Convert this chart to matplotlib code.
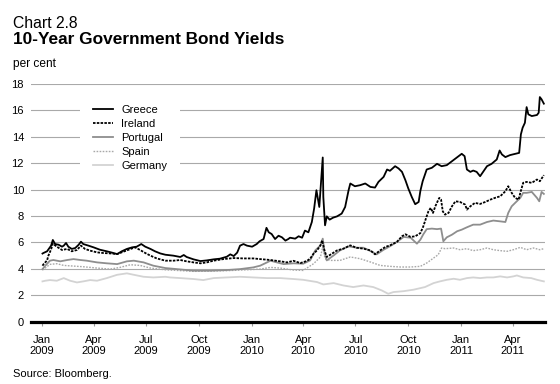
import matplotlib
matplotlib.use("Agg")
import matplotlib.pyplot as plt
import pandas as pd

plt.rcParams['font.family'] = ['Liberation Sans', 'DejaVu Sans']

# ---------------- data ----------------
greece_dates = ["2009-01-02","2009-01-04","2009-01-10","2009-01-17","2009-01-20","2009-01-24","2009-01-30",
    "2009-02-05","2009-02-08","2009-02-12","2009-02-16","2009-02-22","2009-02-28","2009-03-06","2009-03-10",
    "2009-03-14","2009-03-23","2009-04-01","2009-04-12","2009-04-24","2009-05-03","2009-05-12","2009-05-20",
    "2009-05-29","2009-06-07","2009-06-15","2009-06-23","2009-06-30","2009-07-09","2009-07-17","2009-07-26",
    "2009-08-04","2009-08-18","2009-08-30","2009-09-05","2009-09-10","2009-09-22","2009-10-04","2009-10-15",
    "2009-10-27","2009-11-07","2009-11-19","2009-11-25","2009-12-01","2009-12-07","2009-12-12","2009-12-18",
    "2009-12-24","2010-01-02","2010-01-10","2010-01-15","2010-01-22","2010-01-27","2010-01-31","2010-02-05",
    "2010-02-11","2010-02-17","2010-02-23","2010-03-01","2010-03-06","2010-03-09","2010-03-18","2010-03-24",
    "2010-03-30","2010-04-04","2010-04-10","2010-04-16","2010-04-20","2010-04-24","2010-04-26","2010-04-29",
    "2010-05-02","2010-05-05","2010-05-06","2010-05-09","2010-05-12","2010-05-17","2010-05-23","2010-05-30",
    "2010-06-07","2010-06-13","2010-06-19","2010-06-22","2010-06-30","2010-07-09","2010-07-18","2010-07-27",
    "2010-08-04","2010-08-10","2010-08-19","2010-08-25","2010-08-30","2010-09-08","2010-09-14","2010-09-20",
    "2010-09-26","2010-10-01","2010-10-07","2010-10-13","2010-10-19","2010-10-22","2010-10-26","2010-11-02",
    "2010-11-11","2010-11-20","2010-11-28","2010-12-07","2010-12-16","2010-12-25","2011-01-02","2011-01-07",
    "2011-01-11","2011-01-17","2011-01-22","2011-01-28","2011-02-03","2011-02-09","2011-02-15","2011-02-23",
    "2011-03-04","2011-03-09","2011-03-13","2011-03-19","2011-03-27","2011-04-05","2011-04-12","2011-04-15",
    "2011-04-18","2011-04-22","2011-04-25","2011-04-28","2011-05-04","2011-05-13","2011-05-16","2011-05-18",
    "2011-05-21","2011-05-25"]
greece = [5.15,5.2,5.32,5.75,6.18,5.87,5.82,5.67,5.75,5.95,5.67,5.5,5.57,5.82,6.05,5.87,5.75,5.62,5.44,5.32,
    5.22,5.11,5.32,5.5,5.62,5.67,5.87,5.67,5.5,5.32,5.16,5.06,4.99,4.89,5.04,4.89,4.71,4.58,4.63,4.71,4.76,
    4.91,5.09,4.96,5.22,5.75,5.87,5.75,5.67,5.87,6.08,6.25,7.1,6.76,6.63,6.25,6.5,6.38,6.13,6.25,6.35,6.28,
    6.46,6.35,6.89,6.76,7.54,8.56,9.95,9.44,8.68,10.5,12.43,9.44,7.29,7.97,7.72,7.87,7.97,8.18,8.68,9.95,
    10.46,10.25,10.33,10.46,10.2,10.15,10.58,10.96,11.52,11.42,11.77,11.6,11.34,10.7,10.08,9.44,8.89,9.06,
    9.9,10.63,11.52,11.65,11.95,11.77,11.85,12.15,12.46,12.71,12.53,11.52,11.34,11.44,11.34,11.01,11.39,
    11.77,11.95,12.28,12.96,12.66,12.46,12.61,12.71,12.78,14.18,14.68,15.06,16.25,15.7,15.57,15.65,15.82,
    17.01,16.84,16.51]

ireland_dates = ["2009-01-02","2009-01-04","2009-01-10","2009-01-12","2009-01-17","2009-01-20","2009-01-27",
    "2009-02-05","2009-02-14","2009-02-22","2009-03-03","2009-03-10","2009-03-17","2009-03-26","2009-04-07",
    "2009-04-18","2009-04-30","2009-05-12","2009-05-23","2009-06-04","2009-06-12","2009-06-21","2009-06-30",
    "2009-07-09","2009-07-20","2009-08-04","2009-08-18","2009-08-30","2009-09-10","2009-09-22","2009-10-04",
    "2009-10-15","2009-10-27","2009-11-13","2009-12-01","2009-12-18","2010-01-04","2010-01-16","2010-02-03",
    "2010-02-20","2010-03-04","2010-03-15","2010-03-27","2010-04-07","2010-04-13","2010-04-19","2010-04-25",
    "2010-05-01","2010-05-04","2010-05-08","2010-05-12","2010-05-21","2010-05-30","2010-06-10","2010-06-22",
    "2010-07-03","2010-07-15","2010-07-27","2010-08-04","2010-08-13","2010-08-22","2010-08-30","2010-09-11",
    "2010-09-20","2010-09-26","2010-10-05","2010-10-13","2010-10-22","2010-10-27","2010-11-01","2010-11-05",
    "2010-11-09","2010-11-13","2010-11-17","2010-11-21","2010-11-24","2010-11-27","2010-11-30","2010-12-04",
    "2010-12-10","2010-12-16","2010-12-22","2010-12-30","2011-01-08","2011-01-11","2011-01-17","2011-01-25",
    "2011-02-03","2011-02-12","2011-02-21","2011-03-01","2011-03-10","2011-03-19","2011-03-24","2011-03-30",
    "2011-04-05","2011-04-11","2011-04-14","2011-04-19","2011-04-25","2011-05-04","2011-05-13","2011-05-18",
    "2011-05-25"]
ireland = [4.23,4.35,4.63,4.96,5.47,5.9,5.67,5.42,5.5,5.32,5.42,5.75,5.5,5.37,5.24,5.19,5.16,5.11,5.29,5.49,
    5.62,5.42,5.19,4.99,4.78,4.61,4.61,4.66,4.56,4.48,4.41,4.48,4.61,4.73,4.81,4.78,4.78,4.73,4.66,4.56,4.48,
    4.6,4.43,4.58,4.76,5.14,5.39,5.77,6.15,5.39,4.89,5.14,5.39,5.52,5.77,5.59,5.52,5.39,5.09,5.39,5.65,5.77,
    6.03,6.46,6.61,6.41,6.46,6.7,7.2,7.85,8.35,8.61,8.23,8.73,9.11,9.37,9.24,8.35,8.1,8.23,8.73,9.11,9.06,
    8.86,8.48,8.73,8.99,8.91,9.06,9.24,9.37,9.49,9.87,10.25,9.75,9.37,9.24,9.75,10.51,10.58,10.51,10.76,
    10.63,11.09]

portugal_dates = ["2009-01-02","2009-01-07","2009-01-15","2009-01-21","2009-02-02","2009-02-14","2009-02-25",
    "2009-03-09","2009-03-20","2009-04-07","2009-04-24","2009-05-12","2009-05-29","2009-06-10","2009-06-27",
    "2009-07-14","2009-08-04","2009-08-24","2009-09-22","2009-10-21","2009-11-19","2009-12-12","2010-01-04",
    "2010-01-16","2010-01-28","2010-02-03","2010-02-14","2010-02-26","2010-03-15","2010-04-01","2010-04-13",
    "2010-04-22","2010-05-01","2010-05-05","2010-05-08","2010-05-12","2010-05-24","2010-06-04","2010-06-19",
    "2010-07-03","2010-07-15","2010-07-27","2010-08-07","2010-08-19","2010-08-30","2010-09-11","2010-09-23",
    "2010-10-05","2010-10-16","2010-10-22","2010-10-27","2010-11-02","2010-11-11","2010-11-20","2010-11-27",
    "2010-12-01","2010-12-07","2010-12-16","2010-12-25","2011-01-02","2011-01-11","2011-01-22","2011-02-03",
    "2011-02-15","2011-02-26","2011-03-10","2011-03-19","2011-03-24","2011-03-30","2011-04-05","2011-04-14",
    "2011-04-19","2011-04-25","2011-05-04","2011-05-13","2011-05-17","2011-05-21","2011-05-25"]
portugal = [3.97,4.23,4.61,4.66,4.56,4.66,4.73,4.66,4.61,4.48,4.41,4.35,4.56,4.61,4.48,4.23,4.05,3.97,3.85,
    3.85,3.9,3.97,4.1,4.23,4.48,4.61,4.48,4.35,4.41,4.38,4.63,5.39,5.77,6.28,5.27,4.63,5.01,5.39,5.7,5.59,
    5.59,5.34,5.09,5.44,5.7,6.03,6.41,6.35,5.9,6.2,6.6,7.0,7.04,7.0,7.04,6.08,6.38,6.58,6.84,6.96,7.14,7.34,
    7.34,7.54,7.65,7.59,7.54,8.23,8.73,8.99,9.37,9.75,9.75,9.82,9.37,9.11,9.82,9.67]

spain_dates = ["2009-01-02","2009-01-15","2009-01-27","2009-02-08","2009-02-25","2009-03-14","2009-04-07",
    "2009-04-30","2009-05-17","2009-06-04","2009-06-21","2009-07-09","2009-08-04","2009-09-22","2009-11-19",
    "2010-01-16","2010-02-03","2010-02-20","2010-03-15","2010-04-01","2010-04-19","2010-05-01","2010-05-05",
    "2010-05-09","2010-05-18","2010-06-04","2010-06-22","2010-07-09","2010-07-27","2010-08-13","2010-08-30",
    "2010-09-17","2010-10-05","2010-10-22","2010-11-02","2010-11-14","2010-11-22","2010-11-28","2010-12-04",
    "2010-12-19","2010-12-30","2011-01-11","2011-01-22","2011-02-03","2011-02-15","2011-02-26","2011-03-10",
    "2011-03-22","2011-04-02","2011-04-14","2011-04-25","2011-05-07","2011-05-18","2011-05-25"]
spain = [3.9,4.33,4.38,4.25,4.2,4.15,4.05,3.97,4.1,4.3,4.25,4.05,3.92,3.8,3.85,3.97,4.1,4.05,3.9,3.87,4.38,
    4.89,5.65,4.76,4.63,4.63,4.89,4.76,4.51,4.25,4.18,4.13,4.13,4.18,4.43,4.81,5.06,5.57,5.52,5.57,5.44,
    5.52,5.37,5.44,5.57,5.44,5.37,5.32,5.44,5.62,5.44,5.57,5.44,5.52]

germany_dates = ["2009-01-02","2009-01-07","2009-01-15","2009-01-27","2009-02-08","2009-02-19","2009-03-03",
    "2009-03-14","2009-03-26","2009-04-07","2009-04-24","2009-05-12","2009-05-29","2009-06-10","2009-06-27",
    "2009-07-14","2009-08-04","2009-08-12","2009-08-30","2009-09-22","2009-10-09","2009-10-27","2009-11-19",
    "2009-12-12","2010-01-04","2010-01-28","2010-02-20","2010-03-15","2010-04-01","2010-04-25","2010-05-06",
    "2010-05-24","2010-06-10","2010-06-27","2010-07-15","2010-08-01","2010-08-16","2010-08-27","2010-09-05",
    "2010-09-23","2010-10-10","2010-10-30","2010-11-14","2010-11-25","2010-12-07","2010-12-19","2010-12-30",
    "2011-01-11","2011-01-22","2011-02-03","2011-02-15","2011-02-26","2011-03-10","2011-03-22","2011-04-02",
    "2011-04-08","2011-04-19","2011-05-03","2011-05-13","2011-05-25"]
germany = [3.04,3.09,3.14,3.09,3.29,3.09,2.96,3.04,3.14,3.09,3.29,3.54,3.65,3.54,3.39,3.34,3.39,3.34,3.29,
    3.22,3.14,3.29,3.34,3.39,3.34,3.29,3.29,3.22,3.16,2.99,2.81,2.91,2.73,2.61,2.73,2.61,2.35,2.1,2.23,2.3,
    2.41,2.61,2.91,3.04,3.16,3.24,3.16,3.29,3.34,3.29,3.34,3.34,3.42,3.34,3.42,3.49,3.34,3.29,3.16,3.04]

tick_dates = ["2009-01-01","2009-04-01","2009-07-01","2009-10-01","2010-01-01","2010-04-01",
              "2010-07-01","2010-10-01","2011-01-01","2011-04-01"]
tick_labels = ["Jan\n2009","Apr\n2009","Jul\n2009","Oct\n2009","Jan\n2010","Apr\n2010",
               "Jul\n2010","Oct\n2010","Jan\n2011","Apr\n2011"]
y_ticks = [0, 2, 4, 6, 8, 10, 12, 14, 16, 18]

# ---------------- figure ----------------
W, H = 560, 384
fig = plt.figure(figsize=(W/100, H/100), dpi=100)
ax = fig.add_axes([31/W, 1-321.5/H, (545-31)/W, (321.5-84)/H])

ax.plot(pd.to_datetime(germany_dates), germany, color='#d3d3d3', lw=1.3, label='Germany', zorder=3)
ax.plot(pd.to_datetime(spain_dates), spain, color='#a8a8a8', lw=1.0, ls=(0, (1.2, 1.0)), label='Spain', zorder=4)
ax.plot(pd.to_datetime(portugal_dates), portugal, color='#8e8e8e', lw=1.3, label='Portugal', zorder=5)
ax.plot(pd.to_datetime(ireland_dates), ireland, color='black', lw=1.3, ls=(0, (1.4, 0.7)), label='Ireland', zorder=6)
ax.plot(pd.to_datetime(greece_dates), greece, color='black', lw=1.3, label='Greece', zorder=7)

ax.set_ylim(0, 18)
ax.set_xlim(pd.Timestamp("2008-12-13"), pd.Timestamp("2011-05-27"))
ax.set_yticks(y_ticks)
ax.set_yticklabels([str(v) for v in y_ticks])
ax.set_xticks(pd.to_datetime(tick_dates))
ax.set_xticklabels(tick_labels, linespacing=1.02)

for s in ['top', 'right', 'left']:
    ax.spines[s].set_visible(False)
ax.spines['bottom'].set_linewidth(2.3)
ax.spines['bottom'].set_color('black')
ax.spines['bottom'].set_zorder(8)

ax.grid(axis='y', color='#a9a9a9', lw=0.8)
ax.set_axisbelow(True)
ax.tick_params(axis='y', length=0, pad=5, labelsize=8)
ax.tick_params(axis='x', length=3, width=0.8, color='#999999', pad=7, labelsize=8)

handles, labels = ax.get_legend_handles_labels()
order = [4, 3, 2, 1, 0]
leg = ax.legend([handles[i] for i in order], [labels[i] for i in order],
                loc='upper left', bbox_to_anchor=(80/W, 1-92/H), bbox_transform=fig.transFigure,
                frameon=True, fontsize=8, handlelength=1.8, handletextpad=0.76,
                labelspacing=0.36, borderpad=1.15, borderaxespad=0)
leg.get_frame().set_facecolor('white')
leg.get_frame().set_edgecolor('none')
leg.get_frame().set_alpha(1)
leg.set_zorder(10)

fig.text(13/W, 1-28/H, "Chart 2.8", fontsize=11.3, va='baseline', ha='left')
fig.text(13/W, 1-44.5/H, "10-Year Government Bond Yields", fontsize=12.4, fontweight='bold', va='baseline', ha='left')
fig.text(13/W, 1-66.7/H, "per cent", fontsize=8.6, va='baseline', ha='left')
fig.text(13/W, 1-377/H, "Source: Bloomberg.", fontsize=8, va='baseline', ha='left')

fig.savefig("out.png", dpi=100)
